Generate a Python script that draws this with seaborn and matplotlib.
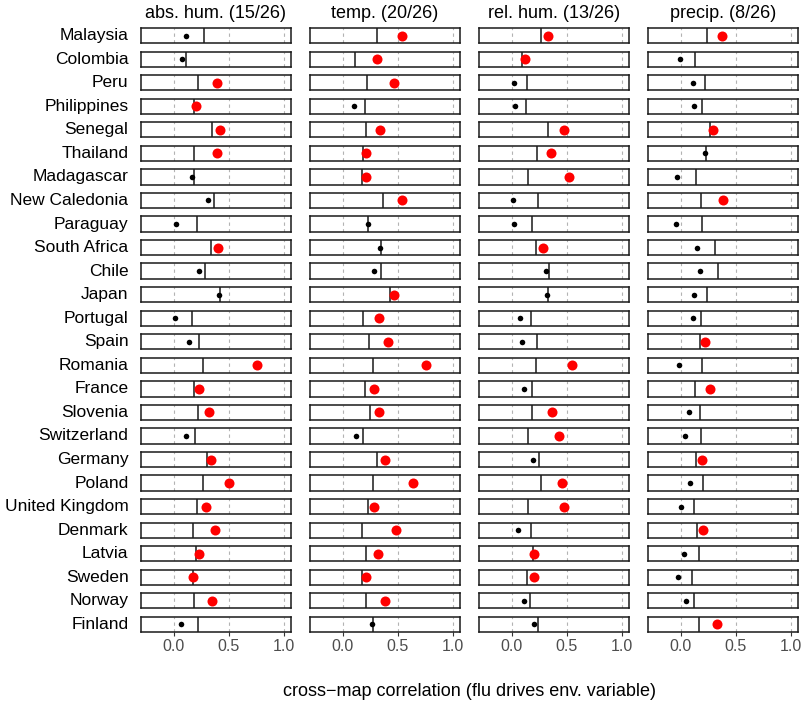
import numpy as np
import pandas as pd
import matplotlib.pyplot as plt
import seaborn as sns

countries = ["Malaysia", "Colombia", "Peru", "Philippines", "Senegal", "Thailand",
             "Madagascar", "New Caledonia", "Paraguay", "South Africa", "Chile", "Japan",
             "Portugal", "Spain", "Romania", "France", "Slovenia", "Switzerland",
             "Germany", "Poland", "United Kingdom", "Denmark", "Latvia", "Sweden",
             "Norway", "Finland"]
variables = ["abs. hum.", "temp.", "rel. hum.", "precip."]

# cross-map correlation (point) and significance threshold (vertical line)
abs_hum_rho = [0.11, 0.07, 0.39, 0.20, 0.42, 0.39, 0.16, 0.31, 0.02, 0.40, 0.23, 0.41, 0.01,
               0.135, 0.755, 0.23, 0.315, 0.105, 0.34, 0.50, 0.295, 0.375, 0.225, 0.175, 0.345, 0.06]
abs_hum_thr = [0.27, 0.11, 0.215, 0.185, 0.35, 0.185, 0.18, 0.36, 0.21, 0.335, 0.28, 0.415, 0.165,
               0.23, 0.265, 0.18, 0.22, 0.19, 0.30, 0.265, 0.21, 0.175, 0.20, 0.17, 0.18, 0.22]
temp_rho = [0.54, 0.31, 0.46, 0.10, 0.34, 0.205, 0.205, 0.54, 0.225, 0.34, 0.285, 0.46, 0.33,
            0.41, 0.755, 0.285, 0.325, 0.115, 0.385, 0.635, 0.285, 0.48, 0.315, 0.205, 0.385, 0.265]
temp_thr = [0.31, 0.11, 0.22, 0.20, 0.205, 0.18, 0.17, 0.36, 0.23, 0.345, 0.345, 0.425, 0.18,
            0.24, 0.27, 0.20, 0.245, 0.185, 0.31, 0.27, 0.23, 0.17, 0.21, 0.175, 0.205, 0.27]
rel_hum_rho = [0.33, 0.12, 0.02, 0.025, 0.475, 0.355, 0.52, 0.005, 0.02, 0.285, 0.31, 0.32, 0.07,
               0.09, 0.55, 0.105, 0.365, 0.43, 0.19, 0.455, 0.47, 0.055, 0.20, 0.205, 0.11, 0.20]
rel_hum_thr = [0.26, 0.095, 0.135, 0.13, 0.33, 0.225, 0.15, 0.24, 0.18, 0.215, 0.335, 0.325, 0.17,
               0.23, 0.215, 0.18, 0.18, 0.145, 0.25, 0.26, 0.15, 0.17, 0.195, 0.14, 0.165, 0.235]
precip_rho = [0.37, -0.005, 0.11, 0.115, 0.29, 0.22, -0.035, 0.38, -0.045, 0.145, 0.17, 0.115, 0.11,
              0.22, -0.02, 0.26, 0.075, 0.035, 0.195, 0.08, 0.005, 0.205, 0.03, -0.025, 0.045, 0.33]
precip_thr = [0.235, 0.13, 0.22, 0.195, 0.26, 0.225, 0.135, 0.18, 0.19, 0.31, 0.34, 0.24, 0.185,
              0.175, 0.19, 0.125, 0.17, 0.18, 0.135, 0.20, 0.115, 0.15, 0.16, 0.105, 0.115, 0.16]

rho_lists = [abs_hum_rho, temp_rho, rel_hum_rho, precip_rho]
thr_lists = [abs_hum_thr, temp_thr, rel_hum_thr, precip_thr]

rows = []
for var, rhos, thrs in zip(variables, rho_lists, thr_lists):
    for c, r, t in zip(countries, rhos, thrs):
        rows.append({"country": c, "variable": var, "rho": r, "threshold": t, "sig": r > t})
df = pd.DataFrame(rows)

sns.set_theme(style="white")
plt.rcParams["font.family"] = ["Liberation Sans", "DejaVu Sans"]


def draw_cell(data, **kws):
    ax = plt.gca()
    r = data.iloc[0]
    ax.axvline(r["threshold"], color="#1a1a1a", lw=1.1, zorder=2)
    sig = bool(r["sig"])
    sns.scatterplot(x=data["rho"], y=np.zeros(len(data)), ax=ax,
                    color="#FF0000" if sig else "black", s=52 if sig else 16,
                    linewidth=0, zorder=3, legend=False)


g = sns.FacetGrid(df, row="country", col="variable", row_order=countries,
                  col_order=variables, height=0.3, aspect=5, sharex=True,
                  sharey=True, despine=False)
g.map_dataframe(draw_cell)
g.figure.set_size_inches(8.05, 7.15)
g.figure.subplots_adjust(left=141 / 805, right=797.5 / 805, top=1 - 28 / 715,
                         bottom=1 - 632 / 715, wspace=0.13, hspace=0.54)

nrow, ncol = g.axes.shape
for i in range(nrow):
    for j in range(ncol):
        ax = g.axes[i, j]
        ax.set_xlim(-0.3, 1.06)
        ax.set_ylim(-1, 1)
        ax.set_yticks([])
        ax.set_xticks([0, 0.5, 1.0])
        ax.set_facecolor("white")
        ax.grid(axis="x", color="#B3B3B3", lw=0.8, ls=(0, (3, 3)))
        ax.set_axisbelow(True)
        for sp in ax.spines.values():
            sp.set_visible(True)
            sp.set_color("#1a1a1a")
            sp.set_linewidth(1.1)
        ax.set_title("")
        ax.set_xlabel("")
        ax.set_ylabel("")
        if i == nrow - 1:
            ax.set_xticklabels(["0.0", "0.5", "1.0"])
            ax.tick_params(axis="x", bottom=True, length=3, width=0.8, color="#333333",
                           labelsize=11.5, labelcolor="#4D4D4D", pad=2)
        else:
            ax.tick_params(axis="x", bottom=False, labelbottom=False, length=0)
        if j == 0:
            ax.set_ylabel(countries[i], rotation=0, ha="right", va="center",
                          fontsize=12.5, color="black", labelpad=9)
        if i == 0:
            n_sig = int(df[df["variable"] == variables[j]]["sig"].sum())
            ax.set_title(f"{variables[j]} ({n_sig}/{len(countries)})", fontsize=13,
                         color="black", pad=7)

g.figure.text((141 + 797.5) / 2 / 805, 1 - 692 / 715,
              "cross\u2212map correlation (flu drives env. variable)",
              ha="center", va="center", fontsize=13, color="black")

g.figure.savefig("out.png", dpi=100)
